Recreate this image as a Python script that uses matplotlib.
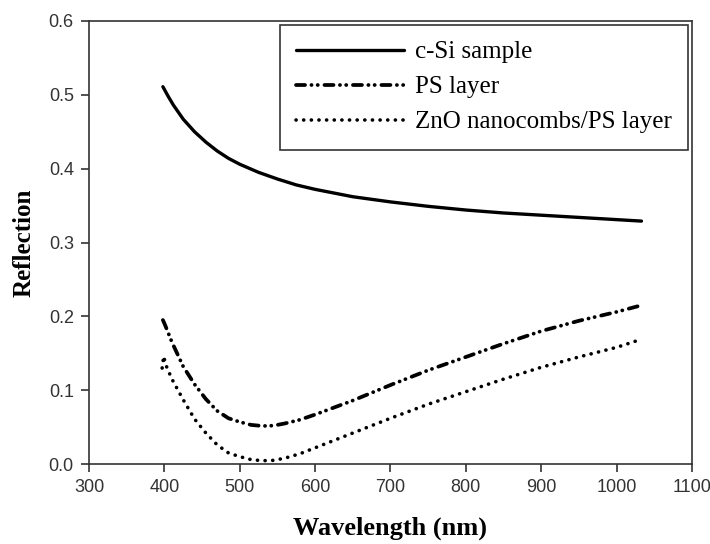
import matplotlib
matplotlib.use("Agg")
import matplotlib.pyplot as plt

# reflection spectra
wl_si = [398, 405, 412, 425, 440, 455, 470, 485, 500, 525, 550, 575, 600, 650, 700,
         750, 800, 850, 900, 950, 1000, 1033]
r_si = [0.511, 0.498, 0.486, 0.467, 0.450, 0.436, 0.424, 0.414, 0.406, 0.395, 0.386,
        0.378, 0.372, 0.362, 0.355, 0.349, 0.344, 0.340, 0.337, 0.334, 0.331, 0.329]

wl_ps = [398, 401, 410, 425, 440, 455, 470, 485, 500, 515, 530, 545, 560, 580, 600,
         650, 700, 750, 800, 850, 900, 950, 1000, 1033]
r_ps = [0.195, 0.188, 0.165, 0.132, 0.108, 0.088, 0.072, 0.062, 0.057, 0.053, 0.0515,
        0.052, 0.055, 0.060, 0.067, 0.086, 0.107, 0.127, 0.145, 0.163, 0.180, 0.194,
        0.206, 0.215]

wl_zno = [397, 399, 402, 410, 425, 440, 455, 470, 485, 500, 515, 530, 545, 560, 580,
          600, 650, 700, 750, 800, 850, 900, 950, 1000, 1027]
r_zno = [0.130, 0.146, 0.134, 0.115, 0.087, 0.061, 0.042, 0.026, 0.015, 0.010, 0.006,
         0.0045, 0.005, 0.008, 0.014, 0.022, 0.042, 0.062, 0.081, 0.098, 0.115, 0.131,
         0.145, 0.158, 0.167]

labels = ["c-Si sample", "PS layer", "ZnO nanocombs/PS layer"]
xticks = [300, 400, 500, 600, 700, 800, 900, 1000, 1100]
yticks = [0.0, 0.1, 0.2, 0.3, 0.4, 0.5, 0.6]

plt.rcParams["lines.scale_dashes"] = False

fig = plt.figure(figsize=(7.1, 5.44), dpi=100)
ax = fig.add_axes([0.1254, 0.147, 0.8492, 0.8144])

ax.plot(wl_si, r_si, color="black", linewidth=2.4, solid_capstyle="round", label=labels[0])
ax.plot(wl_ps, r_ps, color="black", linewidth=2.7, dash_capstyle="round",
        linestyle=(0, (6.5, 4.6, 0.1, 4.4, 0.1, 4.8)), label=labels[1])
ax.plot(wl_zno, r_zno, color="black", linewidth=2.6, dash_capstyle="round",
        linestyle=(0, (0.1, 5.4)), label=labels[2])

ax.set_xlim(300, 1100)
ax.set_ylim(0, 0.6)
ax.set_xticks(xticks)
ax.set_yticks(yticks)
ax.set_yticklabels([f"{v:.1f}" for v in yticks])

for sp in ax.spines.values():
    sp.set_linewidth(1.2)
    sp.set_color("#333333")
ax.tick_params(direction="out", length=6, width=1.2, color="#333333",
               labelsize=13, labelcolor="#333333", pad=5)
for lab in ax.get_xticklabels() + ax.get_yticklabels():
    lab.set_family("Liberation Sans")

ax.set_xlabel("Wavelength (nm)", family="Liberation Serif", fontweight="bold",
              fontsize=19, va="center")
ax.xaxis.set_label_coords(0.5, -0.144)
ax.set_ylabel("Reflection", family="Liberation Serif", fontweight="bold",
              fontsize=18, va="center")
ax.yaxis.set_label_coords(-0.108, 0.5)

leg = ax.legend(loc="upper right", bbox_to_anchor=(1.0, 1.0), borderaxespad=0.15,
                prop={"family": "Liberation Serif", "size": 18},
                handlelength=4.3, handletextpad=0.45, labelspacing=0.5,
                fancybox=False, framealpha=1, borderpad=0.65)
leg.get_frame().set_edgecolor("#333333")
leg.get_frame().set_linewidth(1.2)

fig.savefig("out.png", dpi=100)
